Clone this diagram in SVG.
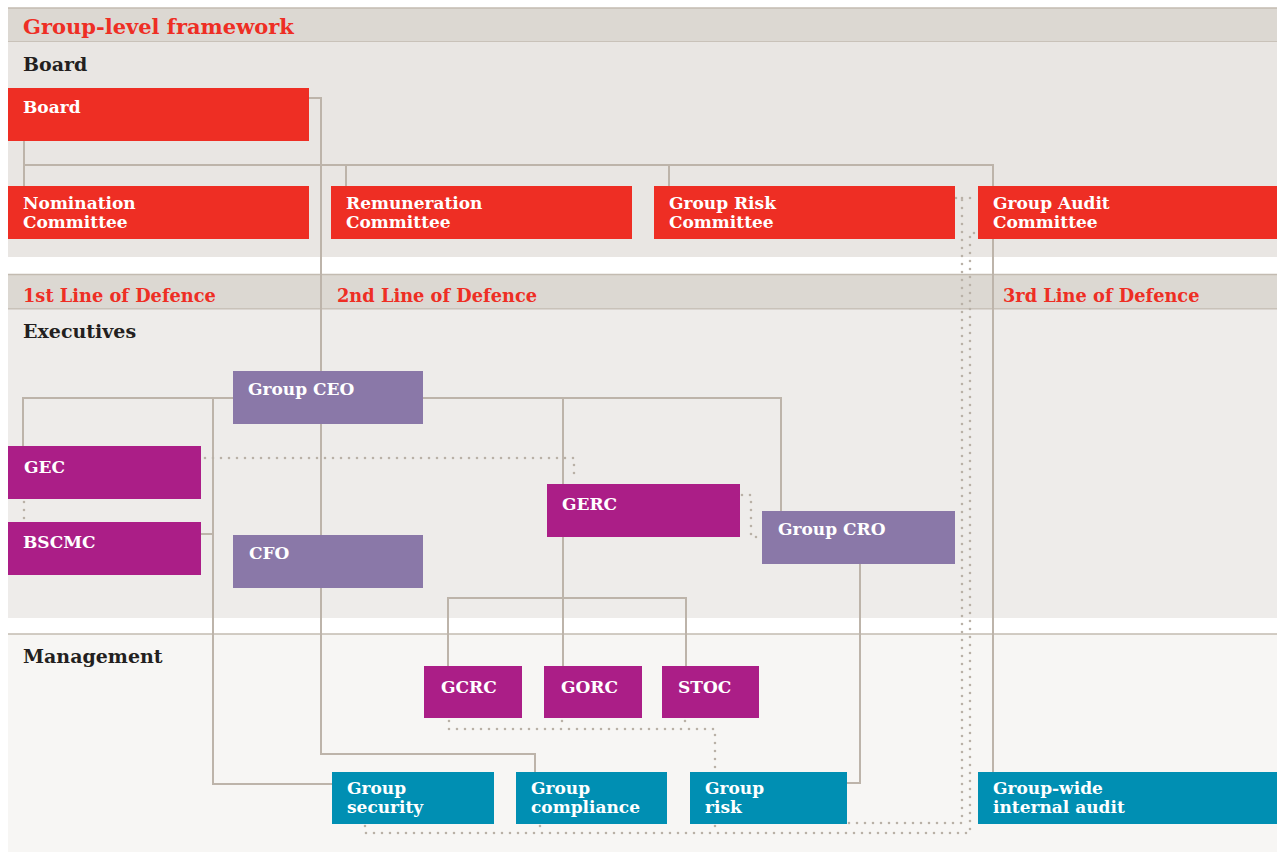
<svg xmlns="http://www.w3.org/2000/svg" width="1277" height="852" viewBox="0 0 1277 852">
<style>
text{font-family:"DejaVu Serif","Liberation Serif",serif;font-weight:bold}
.hd{font-size:21px;fill:#ee2e24}
.sec{font-size:19px;fill:#231f20}
.lod{font-size:17.8px;fill:#ee2e24}
.lbl{font-size:17px;fill:#ffffff}
.red{fill:#ee2e24}
.mag{fill:#ab1e87}
.lav{fill:#8a78a8}
.teal{fill:#008fb3}
.ln{fill:none;stroke:#bdb4aa;stroke-width:2}
.dot{fill:none;stroke:#b9b1a7;stroke-width:2.6;stroke-linecap:round;stroke-dasharray:0 8}
.bd{stroke:#c3bbb1;stroke-width:1.5}
</style>
<rect width="1277" height="852" fill="#ffffff"/>
<g id="bands">
<rect x="8" y="8" width="1269" height="34" fill="#dcd8d2"/>
<line class="bd" x1="8" y1="8" x2="1277" y2="8"/>
<line class="bd" x1="8" y1="42" x2="1277" y2="42"/>
<rect x="8" y="42" width="1269" height="215" fill="#e9e6e3"/>
<rect x="8" y="274" width="1269" height="35" fill="#dcd8d2"/>
<line class="bd" x1="8" y1="274.5" x2="1277" y2="274.5"/>
<line class="bd" x1="8" y1="309" x2="1277" y2="309"/>
<rect x="8" y="309.7" width="1269" height="308.3" fill="#eeecea"/>
<rect x="8" y="634" width="1269" height="218" fill="#f7f6f4"/>
<line class="bd" x1="8" y1="634" x2="1277" y2="634"/>
<text class="hd" x="23" y="34">Group-level framework</text>
<text class="sec" x="23" y="71">Board</text>
<text class="lod" x="23" y="302">1st Line of Defence</text>
<text class="lod" x="337" y="302">2nd Line of Defence</text>
<text class="lod" x="1003" y="302">3rd Line of Defence</text>
<text class="sec" x="23" y="338">Executives</text>
<text class="sec" x="23" y="663">Management</text>
</g>
<g id="connectors">
<path class="ln" d="M309 98H321V371"/>
<path class="ln" d="M24 141V186M24 165H993V772M346 165V186M669 165V186"/>
<path class="ln" d="M23 446V398H233M213 398V784H332M201 534H213"/>
<path class="ln" d="M321 424V535M321 588V754H535V772"/>
<path class="ln" d="M423 398H781V511M563 398V666M448 666V598H686V666"/>
<path class="ln" d="M860 564V783H847"/>
<path class="dot" d="M24 502V520"/>
<path class="dot" d="M205 458H574V478"/>
<path class="dot" d="M742 495H751V537H760"/>
<path class="dot" d="M449 721V729H715V769M562 721V729M685 721V729"/>
<path class="dot" d="M365 826V833H970V233H977M540 826V833M715 826V833"/>
<path class="dot" d="M849 823H962V198H955M962 198H977"/>
</g>
<g id="board"><rect class="red" x="8" y="88" width="301" height="53"/><text class="lbl" x="23" y="113">Board</text></g>
<g id="nomination"><rect class="red" x="8" y="186" width="301" height="53"/><text class="lbl" x="23" y="209">Nomination</text><text class="lbl" x="23" y="228">Committee</text></g>
<g id="remuneration"><rect class="red" x="331" y="186" width="301" height="53"/><text class="lbl" x="346" y="209">Remuneration</text><text class="lbl" x="346" y="228">Committee</text></g>
<g id="group-risk-committee"><rect class="red" x="654" y="186" width="301" height="53"/><text class="lbl" x="669" y="209">Group Risk</text><text class="lbl" x="669" y="228">Committee</text></g>
<g id="group-audit-committee"><rect class="red" x="978" y="186" width="299" height="53"/><text class="lbl" x="993" y="209">Group Audit</text><text class="lbl" x="993" y="228">Committee</text></g>
<g id="group-ceo"><rect class="lav" x="233" y="371" width="190" height="53"/><text class="lbl" x="248" y="395">Group CEO</text></g>
<g id="gec"><rect class="mag" x="8" y="446" width="193" height="53"/><text class="lbl" x="24" y="473">GEC</text></g>
<g id="bscmc"><rect class="mag" x="8" y="522" width="193" height="53"/><text class="lbl" x="23" y="548">BSCMC</text></g>
<g id="cfo"><rect class="lav" x="233" y="535" width="190" height="53"/><text class="lbl" x="249" y="559">CFO</text></g>
<g id="gerc"><rect class="mag" x="547" y="484" width="193" height="53"/><text class="lbl" x="562" y="510">GERC</text></g>
<g id="group-cro"><rect class="lav" x="762" y="511" width="193" height="53"/><text class="lbl" x="778" y="535">Group CRO</text></g>
<g id="gcrc"><rect class="mag" x="424" y="666" width="98" height="52"/><text class="lbl" x="441" y="693">GCRC</text></g>
<g id="gorc"><rect class="mag" x="544" y="666" width="98" height="52"/><text class="lbl" x="561" y="693">GORC</text></g>
<g id="stoc"><rect class="mag" x="662" y="666" width="97" height="52"/><text class="lbl" x="678" y="693">STOC</text></g>
<g id="group-security"><rect class="teal" x="332" y="772" width="162" height="52"/><text class="lbl" x="347" y="794">Group</text><text class="lbl" x="347" y="813">security</text></g>
<g id="group-compliance"><rect class="teal" x="516" y="772" width="151" height="52"/><text class="lbl" x="531" y="794">Group</text><text class="lbl" x="531" y="813">compliance</text></g>
<g id="group-risk"><rect class="teal" x="690" y="772" width="157" height="52"/><text class="lbl" x="705" y="794">Group</text><text class="lbl" x="705" y="813">risk</text></g>
<g id="group-wide-internal-audit"><rect class="teal" x="978" y="772" width="299" height="52"/><text class="lbl" x="993" y="794">Group-wide</text><text class="lbl" x="993" y="813">internal audit</text></g>
</svg>
